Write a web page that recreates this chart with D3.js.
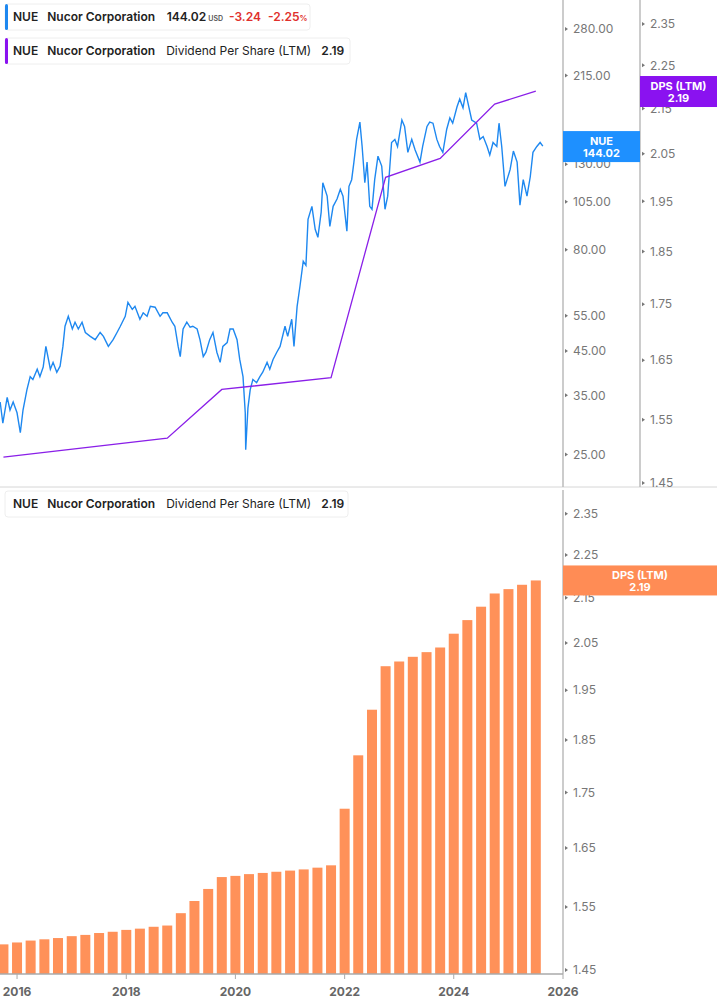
<!DOCTYPE html>
<html>
<head>
<meta charset="utf-8">
<script src="https://cdn.jsdelivr.net/npm/d3@7"></script>
<style>
  body { margin: 0; background: #fff; }
  svg { font-family: Inter, "Noto Sans", sans-serif; }
</style>
</head>
<body>
<svg id="chart" width="717" height="1005"></svg>
<script>
// NUE daily close (sampled), decimal year / price in USD
const priceDates = [2015.69,2015.74,2015.82,2015.87,2015.93,2016.00,2016.06,2016.11,2016.18,2016.24,2016.29,2016.37,2016.42,2016.48,2016.53,2016.61,2016.66,2016.73,2016.79,2016.84,2016.88,2016.94,2017.01,2017.06,2017.12,2017.19,2017.25,2017.34,2017.43,2017.52,2017.58,2017.67,2017.76,2017.83,2017.89,2017.98,2018.03,2018.11,2018.16,2018.25,2018.31,2018.38,2018.44,2018.53,2018.62,2018.67,2018.75,2018.84,2018.89,2018.95,2018.99,2019.04,2019.11,2019.17,2019.22,2019.30,2019.35,2019.41,2019.46,2019.53,2019.59,2019.66,2019.72,2019.77,2019.85,2019.90,2019.96,2020.03,2020.08,2020.14,2020.18,2020.19,2020.23,2020.27,2020.32,2020.39,2020.45,2020.50,2020.58,2020.63,2020.69,2020.76,2020.82,2020.91,2020.96,2021.03,2021.07,2021.13,2021.18,2021.24,2021.29,2021.33,2021.40,2021.46,2021.51,2021.57,2021.60,2021.68,2021.73,2021.79,2021.86,2021.92,2021.97,2022.04,2022.08,2022.13,2022.17,2022.22,2022.28,2022.32,2022.37,2022.41,2022.46,2022.50,2022.55,2022.61,2022.68,2022.74,2022.79,2022.86,2022.92,2022.97,2023.05,2023.10,2023.16,2023.23,2023.29,2023.38,2023.43,2023.51,2023.56,2023.62,2023.69,2023.74,2023.80,2023.87,2023.93,2023.98,2024.06,2024.11,2024.17,2024.22,2024.26,2024.33,2024.42,2024.48,2024.54,2024.61,2024.66,2024.72,2024.79,2024.83,2024.88,2024.94,2025.03,2025.09,2025.16,2025.21,2025.27,2025.34,2025.40,2025.45,2025.52,2025.58,2025.63];
const priceValues = [33.7,29.9,34.6,32.2,33.7,31.7,28.3,32.2,36.1,38.9,38.3,40.6,38.9,41.1,46.2,40.6,42.2,39.9,41.3,46.2,51.8,54.8,51.0,53.0,51.0,53.0,50.0,48.9,48.0,50.0,48.9,46.2,48.0,50.0,51.8,54.8,59.3,57.0,58.0,53.9,55.9,54.8,58.0,57.7,54.8,55.9,55.9,53.0,51.8,46.2,43.6,51.0,53.0,51.5,51.8,51.0,48.0,43.6,44.7,48.0,50.0,44.7,42.2,46.2,47.2,51.0,51.0,48.0,42.9,38.9,31.7,25.7,32.6,36.1,38.3,37.6,38.9,39.9,42.2,40.6,42.9,44.7,46.2,51.8,48.9,53.9,46.2,58.0,65.0,74.9,73.2,95.0,102.3,89.8,85.8,99.0,117.0,108.4,91.3,102.3,106.6,112.7,108.4,88.8,114.6,119.0,131.5,149.6,165.0,143.7,117.0,131.5,102.3,100.6,119.0,136.0,128.6,100.6,108.4,147.0,149.6,143.7,167.0,161.0,139.0,149.6,141.0,131.5,143.7,161.0,165.0,164.0,149.6,143.7,139.0,158.5,169.0,164.0,180.0,188.0,179.0,195.0,184.0,167.0,164.0,149.6,152.0,143.7,137.0,147.0,143.7,164.0,143.7,114.6,126.0,140.0,131.5,103.0,119.0,108.4,121.0,139.0,143.7,147.0,144.02];

// Dividend per share (LTM), quarterly from 2015 Q4
const dpsValues = [1.49,1.493,1.496,1.498,1.50,1.503,1.505,1.508,1.51,1.513,1.515,1.518,1.52,1.54,1.56,1.58,1.60,1.602,1.605,1.607,1.609,1.611,1.613,1.616,1.62,1.72,1.82,1.91,2.00,2.01,2.02,2.03,2.04,2.07,2.10,2.13,2.16,2.17,2.18,2.19];
const dpsStart = 2015.75;
// quarters where the line chart on the top panel has a vertex
const dpsLineIdx = [0,12,16,24,28,32,36,39];

const priceTicks = [25,35,45,55,80,105,130,215,280];
const dpsTicks = [1.45,1.55,1.65,1.75,1.85,1.95,2.05,2.15,2.25,2.35];
const yearTicks = [2016,2018,2020,2022,2024,2026];

const svg = d3.select('#chart');
const axisX = 563, axis2X = 640;
const topH = 487, botTop = 490, botBottom = 974;

const ydate = y => { const yr = Math.floor(y); return new Date(yr, 0, 1 + Math.round((y - yr) * 365)); };

const x = d3.scaleTime()
  .domain([ydate(2015.689), ydate(2026)])
  .range([0, axisX]);

const yPrice = d3.scaleLog().domain([20.8, 330]).range([topH, 0]);
const yDpsTop = d3.scaleLog().domain([1.444, 2.41]).range([topH, 0]);
const yDpsBot = d3.scaleLog().domain([1.444, 2.41]).range([botBottom, botTop]);

const dps = dpsValues.map((v, i) => ({ date: ydate(dpsStart + i * 0.25), v }));
const prices = priceDates.map((d, i) => ({ date: ydate(d), v: priceValues[i] }));

// separators and axis lines
svg.append('line').attr('x1', 0).attr('x2', 717).attr('y1', topH).attr('y2', topH).attr('stroke', '#d6d6d6');
svg.append('line').attr('x1', axisX).attr('x2', axisX).attr('y1', 0).attr('y2', topH).attr('stroke', '#bbb').attr('stroke-width', 1.5);
svg.append('line').attr('x1', axis2X).attr('x2', axis2X).attr('y1', 0).attr('y2', topH).attr('stroke', '#bbb').attr('stroke-width', 1.5);
svg.append('line').attr('x1', axisX).attr('x2', axisX).attr('y1', botTop).attr('y2', botBottom).attr('stroke', '#bbb').attr('stroke-width', 1.5);

function rightAxis(scale, ticks, xPos, fmt) {
  const g = svg.append('g').attr('transform', `translate(${xPos},0)`);
  const t = g.selectAll('g').data(ticks).join('g').attr('transform', d => `translate(0,${scale(d)})`);
  t.append('path').attr('d', 'M2,-2L5,0L2,2Z').attr('fill', '#777');
  t.append('text').attr('x', 10).attr('dy', '0.35em').attr('font-size', 12).attr('fill', '#777').text(fmt);
}
rightAxis(yPrice, priceTicks, axisX, d3.format('.2f'));
rightAxis(yDpsTop, dpsTicks, axis2X, d3.format('.2f'));
rightAxis(yDpsBot, dpsTicks, axisX, d3.format('.2f'));

// top: price line
svg.append('path').datum(prices)
  .attr('fill', 'none').attr('stroke', '#1e88f0').attr('stroke-width', 1.4)
  .attr('d', d3.line().x(d => x(d.date)).y(d => yPrice(d.v)));

// top: DPS line
svg.append('path').datum(dpsLineIdx.map(i => dps[i]))
  .attr('fill', 'none').attr('stroke', '#8a1fe8').attr('stroke-width', 1.3)
  .attr('d', d3.line().x(d => x(d.date)).y(d => yDpsTop(d.v)));

// bottom: bars
const bw = 10;
svg.append('g').selectAll('rect').data(dps).join('rect')
  .attr('x', d => x(d.date) - bw / 2)
  .attr('width', bw)
  .attr('y', d => yDpsBot(d.v))
  .attr('height', d => botBottom - yDpsBot(d.v))
  .attr('fill', '#ff9159');

// bottom x axis
svg.append('line').attr('x1', 0).attr('x2', axisX).attr('y1', botBottom).attr('y2', botBottom).attr('stroke', '#aaa').attr('stroke-width', 1.5);
const xt = svg.append('g').selectAll('g').data(yearTicks).join('g')
  .attr('transform', d => `translate(${x(new Date(d, 0, 1))},${botBottom})`);
xt.append('line').attr('y2', 5).attr('stroke', '#aaa');
xt.append('text').attr('y', 22).attr('text-anchor', 'middle').attr('font-size', 12)
  .attr('font-weight', 700).attr('fill', '#666').text(d => d);

// value badges
function badge(x0, y0, w, h, color, l1, l2) {
  svg.append('rect').attr('x', x0).attr('y', y0).attr('width', w).attr('height', h).attr('fill', color);
  svg.append('text').attr('x', x0 + w / 2).attr('y', y0 + h / 2 - 5).attr('text-anchor', 'middle').attr('dy', '0.35em')
    .attr('font-size', 11).attr('font-weight', 700).attr('fill', '#fff').text(l1);
  svg.append('text').attr('x', x0 + w / 2).attr('y', y0 + h / 2 + 7).attr('text-anchor', 'middle').attr('dy', '0.35em')
    .attr('font-size', 11).attr('font-weight', 700).attr('fill', '#fff').text(l2);
}
const lastPrice = priceValues[priceValues.length - 1];
const lastDps = dpsValues[dpsValues.length - 1];
badge(axisX, yPrice(lastPrice) - 15, 77, 31, '#1e90ff', 'NUE', lastPrice.toFixed(2));
badge(axis2X, yDpsTop(lastDps) - 15, 77, 31, '#8a12f0', 'DPS (LTM)', lastDps.toFixed(2));
badge(axisX, yDpsBot(lastDps) - 15, 154, 30, '#ff8c55', 'DPS (LTM)', lastDps.toFixed(2));

// legends
function legend(y0, w, bar, parts) {
  const g = svg.append('g').attr('transform', `translate(5,${y0})`);
  g.append('rect').attr('width', w).attr('height', 26).attr('rx', 3).attr('fill', '#fff').attr('stroke', '#eee');
  if (bar) g.append('rect').attr('x', 0).attr('y', 0).attr('width', 3).attr('height', 26).attr('rx', 1.5).attr('fill', bar);
  const t = g.append('text').attr('x', 8).attr('y', 13).attr('dy', '0.35em').attr('font-size', 12).attr('fill', '#222');
  parts.forEach(p => t.append('tspan').attr('dx', p.dx || 0).attr('font-weight', p.w || 600)
    .attr('fill', p.c || '#222').attr('font-size', p.s || 12).text(p.t));
}
legend(4, 305, '#1e88f0', [
  { t: 'NUE' }, { t: 'Nucor Corporation', dx: 9 }, { t: '144.02', dx: 12 },
  { t: 'USD', dx: 2, s: 7, c: '#555' }, { t: '-3.24', dx: 6, c: '#e0302c' },
  { t: '-2.25', dx: 7, c: '#e0302c' }, { t: '%', s: 8, c: '#e0302c' }
]);
legend(38, 345, '#8a12f0', [
  { t: 'NUE' }, { t: 'Nucor Corporation', dx: 9 }, { t: 'Dividend Per Share (LTM)', dx: 11, w: 400 },
  { t: '2.19', dx: 10 }
]);
legend(491, 343, null, [
  { t: 'NUE' }, { t: 'Nucor Corporation', dx: 9 }, { t: 'Dividend Per Share (LTM)', dx: 11, w: 400 },
  { t: '2.19', dx: 10 }
]);
</script>
</body>
</html>
